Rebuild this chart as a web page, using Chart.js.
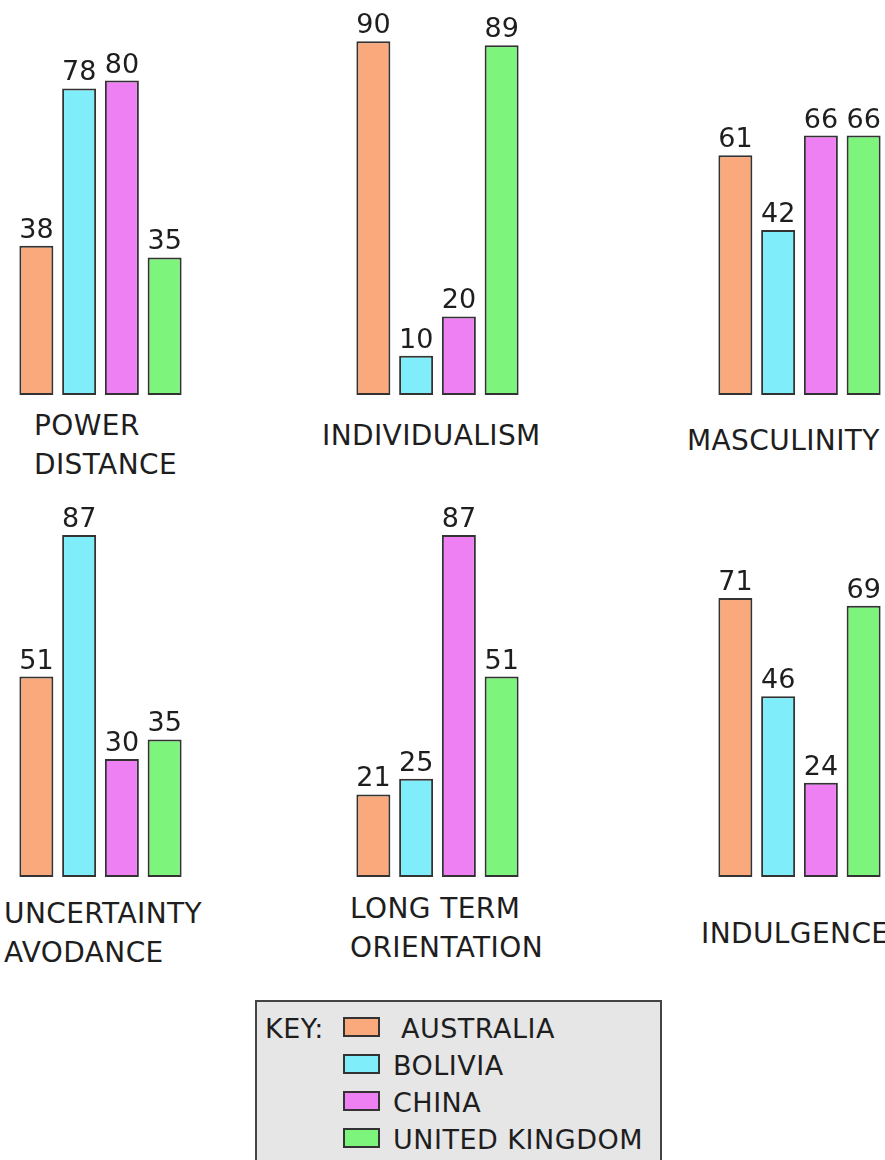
<!DOCTYPE html>
<html lang="en">
<head>
<meta charset="UTF-8">
<title>Cultural Dimensions</title>
<script src="https://cdn.jsdelivr.net/npm/chart.js"></script>
<style>
  html, body { margin: 0; padding: 0; background: #fff; }
  body { width: 885px; height: 1160px; position: relative; overflow: hidden; font-family: 'DejaVu Sans', sans-serif; color: #1e1e1e; }
  .panel { position: absolute; width: 171px; height: 400px; }
  .cat { position: absolute; font-size: 28px; line-height: 39px; white-space: nowrap; color: #1e1e1e; letter-spacing: 0.4px; }
  .key { position: absolute; left: 255px; top: 1000px; width: 403px; height: 170px; background: #e6e6e6; border: 2px solid #444; }
  .key-txt { position: absolute; font-size: 27px; line-height: 37px; white-space: nowrap; color: #1e1e1e; letter-spacing: 0.5px; }
  .swatch { position: absolute; width: 33px; height: 16px; border: 2px solid #333; }
</style>
</head>
<body>
<script>
// data
const dimensions = [['POWER', 'DISTANCE'], ['INDIVIDUALISM'], ['MASCULINITY'],
                    ['UNCERTAINTY', 'AVODANCE'], ['LONG TERM', 'ORIENTATION'], ['INDULGENCE']];
const countries = ['AUSTRALIA', 'BOLIVIA', 'CHINA', 'UNITED KINGDOM'];
const australia = [38, 90, 61, 51, 21, 71];
const bolivia   = [78, 10, 42, 87, 25, 46];
const china     = [80, 20, 66, 30, 87, 24];
const uk        = [35, 89, 66, 35, 51, 69];
const series = [australia, bolivia, china, uk];
const colors = ['#F9A97B', '#80EEFA', '#EE80F4', '#7DF57C'];

// panel placement (left, top of canvas) and label placement
const panelPos = [[15, 0], [352, 0], [714, 0], [15, 482], [352, 482], [714, 482]];
const labelPos = [[34, 406], [322, 416], [687, 421], [4, 894], [350, 889], [701, 914]];

const valueLabels = {
  id: 'valueLabels',
  afterDatasetsDraw(chart) {
    const ctx = chart.ctx;
    ctx.save();
    ctx.font = '27px "DejaVu Sans"';
    ctx.fillStyle = '#1e1e1e';
    ctx.textAlign = 'center';
    ctx.textBaseline = 'alphabetic';
    chart.data.datasets.forEach((ds, i) => {
      chart.getDatasetMeta(i).data.forEach((bar, k) => {
        ctx.fillText(ds.data[k], bar.x, bar.y - 8);
      });
    });
    ctx.restore();
  }
};

dimensions.forEach((dim, i) => {
  const box = document.createElement('div');
  box.className = 'panel';
  box.style.left = panelPos[i][0] + 'px';
  box.style.top = panelPos[i][1] + 'px';
  const cv = document.createElement('canvas');
  cv.width = 171; cv.height = 400;
  box.appendChild(cv);
  document.body.appendChild(box);

  const lab = document.createElement('div');
  lab.className = 'cat';
  lab.style.left = labelPos[i][0] + 'px';
  lab.style.top = labelPos[i][1] + 'px';
  lab.innerHTML = dim.join('<br>');
  document.body.appendChild(lab);

  new Chart(cv, {
    type: 'bar',
    data: {
      labels: [dim.join(' ')],
      datasets: countries.map((c, j) => ({
        label: c,
        data: [series[j][i]],
        backgroundColor: colors[j],
        borderColor: '#333',
        borderWidth: 2,
        borderSkipped: false,
        barPercentage: 0.795,
        categoryPercentage: 1
      }))
    },
    options: {
      responsive: false,
      animation: false,
      layout: { padding: { top: 2, bottom: 5, left: 0, right: 0 } },
      plugins: { legend: { display: false }, tooltip: { enabled: false } },
      scales: {
        x: { display: false },
        y: { display: false, min: 0, max: 100 }
      }
    },
    plugins: [valueLabels]
  });
});

// key box
const key = document.createElement('div');
key.className = 'key';
document.body.appendChild(key);
const keyTitle = document.createElement('div');
keyTitle.className = 'key-txt';
keyTitle.style.left = '265px';
keyTitle.style.top = '1010px';
keyTitle.textContent = 'KEY:';
document.body.appendChild(keyTitle);
countries.forEach((c, j) => {
  const sw = document.createElement('div');
  sw.className = 'swatch';
  sw.style.left = '343px';
  sw.style.top = (1017 + j * 37) + 'px';
  sw.style.background = colors[j];
  document.body.appendChild(sw);
  const t = document.createElement('div');
  t.className = 'key-txt';
  t.style.left = (j === 0 ? 401 : 393) + 'px';
  t.style.top = (1010 + j * 37) + 'px';
  t.textContent = c;
  document.body.appendChild(t);
});
</script>
</body>
</html>
